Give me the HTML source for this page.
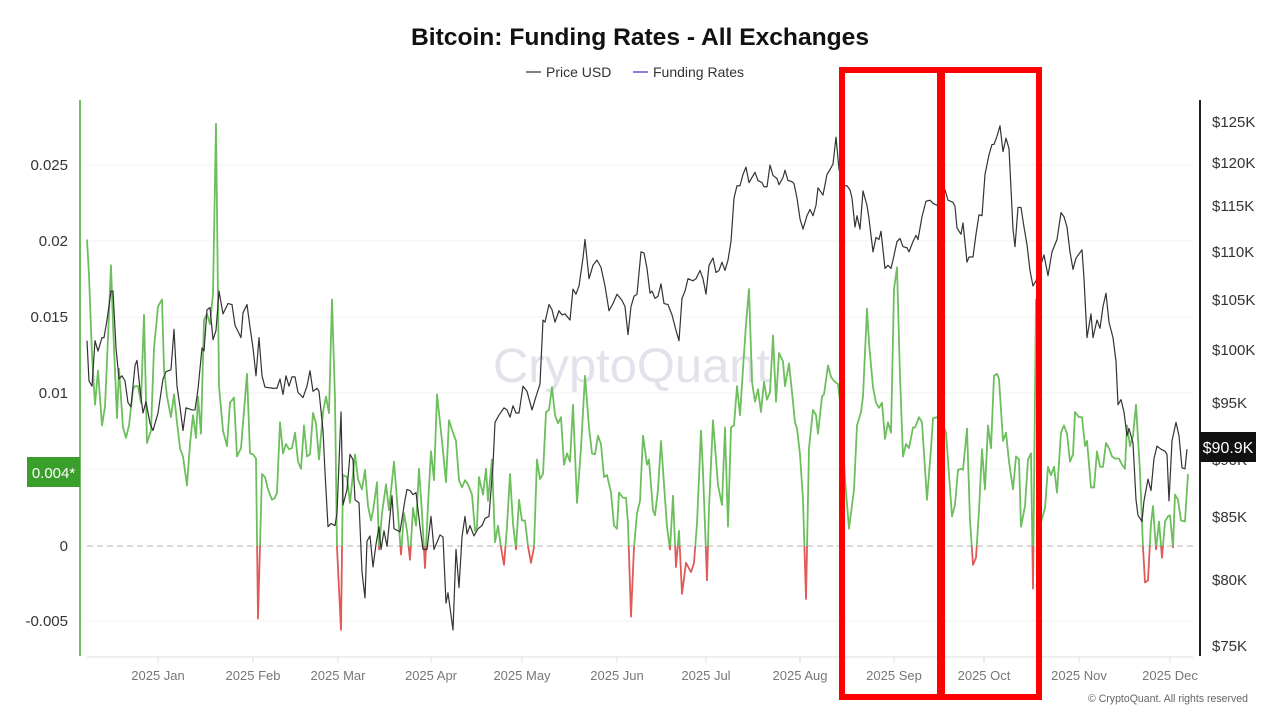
<!DOCTYPE html>
<html>
<head>
<meta charset="utf-8">
<style>
html,body{margin:0;padding:0;background:#fff;}
svg{display:block;}
text{font-family:"Liberation Sans",Arial,sans-serif;}
</style>
</head>
<body>
<svg width="1280" height="720" viewBox="0 0 1280 720" xmlns="http://www.w3.org/2000/svg">
<defs>
<clipPath id="above"><rect x="0" y="0" width="1280" height="546"/></clipPath>
<clipPath id="below"><rect x="0" y="546" width="1280" height="200"/></clipPath>
</defs>
<rect width="1280" height="720" fill="#fff"/>

<!-- title -->
<text x="640" y="45" font-size="24" font-weight="bold" fill="#111" text-anchor="middle" textLength="458" lengthAdjust="spacingAndGlyphs">Bitcoin: Funding Rates - All Exchanges</text>
<!-- legend -->
<line x1="526" y1="72" x2="541" y2="72" stroke="#555" stroke-width="1.5"/>
<text x="546" y="77" font-size="14" fill="#333">Price USD</text>
<line x1="633" y1="72" x2="648" y2="72" stroke="#5b57d8" stroke-width="1.5"/>
<text x="653" y="77" font-size="14" fill="#333">Funding Rates</text>

<!-- gridlines -->
<g stroke="#f0f0f0" stroke-width="1">
<line x1="87" y1="165" x2="1193" y2="165"/>
<line x1="87" y1="241" x2="1193" y2="241"/>
<line x1="87" y1="317" x2="1193" y2="317"/>
<line x1="87" y1="393" x2="1193" y2="393"/>
<line x1="87" y1="469" x2="1193" y2="469"/>
<line x1="87" y1="621" x2="1193" y2="621"/>
</g>
<line x1="87" y1="546" x2="1193" y2="546" stroke="#c4c4c4" stroke-width="1.2" stroke-dasharray="6,4"/>

<!-- watermark -->
<text x="493" y="382" font-size="48" fill="#e2e2ea" textLength="277" lengthAdjust="spacingAndGlyphs">CryptoQuant</text>

<!-- x axis -->
<line x1="87" y1="657" x2="1193" y2="657" stroke="#dcdcdc" stroke-width="1"/>
<g stroke="#dcdcdc" stroke-width="1">
<line x1="158" y1="657" x2="158" y2="663"/>
<line x1="253" y1="657" x2="253" y2="663"/>
<line x1="338" y1="657" x2="338" y2="663"/>
<line x1="431" y1="657" x2="431" y2="663"/>
<line x1="522" y1="657" x2="522" y2="663"/>
<line x1="617" y1="657" x2="617" y2="663"/>
<line x1="706" y1="657" x2="706" y2="663"/>
<line x1="800" y1="657" x2="800" y2="663"/>
<line x1="894" y1="657" x2="894" y2="663"/>
<line x1="984" y1="657" x2="984" y2="663"/>
<line x1="1079" y1="657" x2="1079" y2="663"/>
<line x1="1170" y1="657" x2="1170" y2="663"/>
</g>
<g font-size="13" fill="#777" text-anchor="middle">
<text x="158" y="680">2025 Jan</text>
<text x="253" y="680">2025 Feb</text>
<text x="338" y="680">2025 Mar</text>
<text x="431" y="680">2025 Apr</text>
<text x="522" y="680">2025 May</text>
<text x="617" y="680">2025 Jun</text>
<text x="706" y="680">2025 Jul</text>
<text x="800" y="680">2025 Aug</text>
<text x="894" y="680">2025 Sep</text>
<text x="984" y="680">2025 Oct</text>
<text x="1079" y="680">2025 Nov</text>
<text x="1170" y="680">2025 Dec</text>
</g>

<!-- left axis -->
<line x1="80" y1="100" x2="80" y2="656" stroke="#6cbf5c" stroke-width="2"/>
<g font-size="15" fill="#333" text-anchor="end">
<text x="68" y="170">0.025</text>
<text x="68" y="246">0.02</text>
<text x="68" y="322">0.015</text>
<text x="68" y="398">0.01</text>
<text x="68" y="551">0</text>
<text x="68" y="626">-0.005</text>
</g>
<rect x="27" y="457" width="53" height="30" fill="#3a9f2a"/>
<text x="53.5" y="478" font-size="15" fill="#fff" text-anchor="middle">0.004*</text>

<!-- right axis -->
<line x1="1200" y1="100" x2="1200" y2="656" stroke="#222" stroke-width="2"/>
<g font-size="15" fill="#333">
<text x="1212" y="127">$125K</text>
<text x="1212" y="168">$120K</text>
<text x="1212" y="211">$115K</text>
<text x="1212" y="257">$110K</text>
<text x="1212" y="305">$105K</text>
<text x="1212" y="355">$100K</text>
<text x="1212" y="408">$95K</text>
<text x="1212" y="465">$90K</text>
<text x="1212" y="522">$85K</text>
<text x="1212" y="585">$80K</text>
<text x="1212" y="651">$75K</text>
</g>

<!-- series -->
<g clip-path="url(#above)">
<g transform="translate(0,100) scale(1,1.0331) translate(0,-100)">
<polyline fill="none" stroke="#6cbf5c" stroke-width="1.8" stroke-linejoin="round" vector-effect="non-scaling-stroke" points="87,235 89,270 92,347 95,395 98,362 102,415 105,397 107,353 111,260 113,317 117,408 119,360 123,417 126,427 129,415 133,380 135,377 138,377 141,393 144,308 147,432 151,420 154,340 158,300 162,293 164,360 167,387 171,407 174,385 177,412 180,437 183,445 187,473 190,433 193,405 196,427 198,387 201,423 204,313 207,307 210,317 213,287 216,123 219,377 223,420 227,435 230,393 234,388 237,445 241,437 247,365 250,442 253,443 256,447 258,602 262,462 265,465 268,477 272,487 275,485 277,480 280,412 283,442 286,433 289,438 292,437 295,422 298,450 301,457 304,415 307,445 310,443 313,403 316,413 319,448 323,402 326,387 329,403 332,293 335,390 337,533 341,613 343,463 347,465 350,490 355,443 358,467 362,477 365,458 368,493 371,507 373,498 377,470 379,535 382,500 386,472 389,497 394,450 397,487 401,540 404,500 407,517 410,545 413,495 416,512 419,457 422,500 425,553 428,492 431,440 434,468 437,385 442,430 446,470 449,410 453,422 456,430 459,468 462,475 465,468 468,472 472,482 475,517 477,513 479,465 483,482 486,457 488,488 492,448 495,528 498,512 501,533 504,550 507,513 510,462 513,510 516,535 519,487 522,507 525,507 528,532 531,548 534,533 537,448 540,467 543,462 546,402 549,400 552,378 555,405 558,413 561,407 564,453 567,442 570,450 573,395 577,490 581,437 585,367 589,417 592,442 595,443 598,425 601,433 604,465 607,463 611,480 614,512 617,515 619,480 623,485 626,485 628,510 631,600 634,533 637,500 640,488 643,425 647,453 649,448 653,497 655,502 658,477 661,430 664,472 667,513 670,535 673,483 676,552 679,517 682,578 686,548 691,557 694,548 697,510 701,420 703,460 707,565 709,495 713,410 718,473 722,492 725,417 728,513 731,417 734,415 737,377 740,405 743,360 746,317 749,283 752,373 755,392 758,380 761,402 764,373 767,390 770,383 773,328 776,392 779,345 783,353 785,377 789,355 792,383 795,412 797,418 800,443 803,487 806,583 809,437 813,400 816,405 818,423 822,387 824,385 828,357 831,368 834,372 838,375 841,400 845,467 849,515 854,477 857,415 861,402 863,387 867,302 869,335 873,378 876,393 879,398 882,393 885,428 888,412 891,422 894,283 897,262 900,367 903,445 906,433 909,437 913,417 915,417 919,407 922,412 925,457 927,487 931,437 933,408 937,407 941,410 946,422 949,463 952,503 955,492 958,458 961,457 963,458 967,418 970,507 973,550 976,543 979,497 982,438 985,477 988,415 991,437 994,367 997,365 999,370 1003,430 1006,422 1009,450 1013,477 1016,445 1019,448 1021,513 1025,493 1028,448 1031,442 1033,573 1036,293 1039,517 1042,505 1045,495 1048,455 1051,463 1054,455 1057,480 1061,422 1064,415 1067,423 1070,450 1073,443 1075,402 1079,407 1082,407 1085,435 1087,430 1091,475 1094,475 1097,440 1100,455 1103,455 1106,432 1109,437 1112,445 1115,447 1119,447 1122,453 1125,457 1127,415 1130,435 1133,425 1136,395 1140,460 1143,533 1145,567 1148,565 1151,510 1153,493 1156,535 1159,508 1162,543 1165,508 1168,503 1170,502 1173,533 1175,482 1178,487 1181,507 1185,508 1188,462"/>
</g>
</g>
<g clip-path="url(#below)">
<g transform="translate(0,100) scale(1,1.0331) translate(0,-100)">
<polyline fill="none" stroke="#e05a5a" stroke-width="1.8" stroke-linejoin="round" vector-effect="non-scaling-stroke" points="87,235 89,270 92,347 95,395 98,362 102,415 105,397 107,353 111,260 113,317 117,408 119,360 123,417 126,427 129,415 133,380 135,377 138,377 141,393 144,308 147,432 151,420 154,340 158,300 162,293 164,360 167,387 171,407 174,385 177,412 180,437 183,445 187,473 190,433 193,405 196,427 198,387 201,423 204,313 207,307 210,317 213,287 216,123 219,377 223,420 227,435 230,393 234,388 237,445 241,437 247,365 250,442 253,443 256,447 258,602 262,462 265,465 268,477 272,487 275,485 277,480 280,412 283,442 286,433 289,438 292,437 295,422 298,450 301,457 304,415 307,445 310,443 313,403 316,413 319,448 323,402 326,387 329,403 332,293 335,390 337,533 341,613 343,463 347,465 350,490 355,443 358,467 362,477 365,458 368,493 371,507 373,498 377,470 379,535 382,500 386,472 389,497 394,450 397,487 401,540 404,500 407,517 410,545 413,495 416,512 419,457 422,500 425,553 428,492 431,440 434,468 437,385 442,430 446,470 449,410 453,422 456,430 459,468 462,475 465,468 468,472 472,482 475,517 477,513 479,465 483,482 486,457 488,488 492,448 495,528 498,512 501,533 504,550 507,513 510,462 513,510 516,535 519,487 522,507 525,507 528,532 531,548 534,533 537,448 540,467 543,462 546,402 549,400 552,378 555,405 558,413 561,407 564,453 567,442 570,450 573,395 577,490 581,437 585,367 589,417 592,442 595,443 598,425 601,433 604,465 607,463 611,480 614,512 617,515 619,480 623,485 626,485 628,510 631,600 634,533 637,500 640,488 643,425 647,453 649,448 653,497 655,502 658,477 661,430 664,472 667,513 670,535 673,483 676,552 679,517 682,578 686,548 691,557 694,548 697,510 701,420 703,460 707,565 709,495 713,410 718,473 722,492 725,417 728,513 731,417 734,415 737,377 740,405 743,360 746,317 749,283 752,373 755,392 758,380 761,402 764,373 767,390 770,383 773,328 776,392 779,345 783,353 785,377 789,355 792,383 795,412 797,418 800,443 803,487 806,583 809,437 813,400 816,405 818,423 822,387 824,385 828,357 831,368 834,372 838,375 841,400 845,467 849,515 854,477 857,415 861,402 863,387 867,302 869,335 873,378 876,393 879,398 882,393 885,428 888,412 891,422 894,283 897,262 900,367 903,445 906,433 909,437 913,417 915,417 919,407 922,412 925,457 927,487 931,437 933,408 937,407 941,410 946,422 949,463 952,503 955,492 958,458 961,457 963,458 967,418 970,507 973,550 976,543 979,497 982,438 985,477 988,415 991,437 994,367 997,365 999,370 1003,430 1006,422 1009,450 1013,477 1016,445 1019,448 1021,513 1025,493 1028,448 1031,442 1033,573 1036,293 1039,517 1042,505 1045,495 1048,455 1051,463 1054,455 1057,480 1061,422 1064,415 1067,423 1070,450 1073,443 1075,402 1079,407 1082,407 1085,435 1087,430 1091,475 1094,475 1097,440 1100,455 1103,455 1106,432 1109,437 1112,445 1115,447 1119,447 1122,453 1125,457 1127,415 1130,435 1133,425 1136,395 1140,460 1143,533 1145,567 1148,565 1151,510 1153,493 1156,535 1159,508 1162,543 1165,508 1168,503 1170,502 1173,533 1175,482 1178,487 1181,507 1185,508 1188,462"/>
</g>
</g>

<g transform="translate(0,100) scale(1,1.0331) translate(0,-100)">
<polyline fill="none" stroke="#333" stroke-width="1.2" stroke-linejoin="round" vector-effect="non-scaling-stroke" points="87,333 89,372 92,377 95,333 98,343 102,330 104,330 107,313 111,285 113,285 116,340 119,370 122,367 125,372 128,393 131,397 133,377 135,357 137,352 140,380 143,403 146,392 150,413 153,420 158,403 163,370 166,363 171,361 174,322 177,377 180,397 183,420 186,398 192,400 195,400 198,380 202,340 204,343 207,303 210,301 213,332 216,323 219,285 223,307 228,297 232,298 235,318 241,330 243,306 247,298 250,320 253,340 256,367 259,330 262,367 265,378 273,379 277,379 280,370 283,385 286,367 289,377 292,368 295,368 298,383 303,388 307,377 310,362 313,382 317,379 319,382 323,420 325,460 328,513 331,510 335,512 337,500 341,402 343,492 347,477 350,443 353,448 355,487 359,490 362,557 365,582 367,527 370,522 373,552 376,530 379,513 381,535 384,517 387,532 392,483 394,515 400,518 405,487 407,477 410,478 413,482 416,480 420,513 423,535 427,535 431,503 434,535 440,521 443,523 446,587 448,577 453,613 456,535 459,572 462,523 465,503 467,520 470,512 474,522 478,515 482,512 485,505 489,503 493,453 495,412 499,405 504,398 507,400 510,407 513,396 516,403 519,403 523,377 527,382 532,400 536,387 540,375 543,313 545,315 549,298 552,303 555,315 559,304 562,308 565,307 570,313 573,283 576,288 579,280 583,253 585,235 589,273 593,260 597,255 601,262 605,280 609,304 613,297 617,288 622,294 625,300 628,327 631,300 634,290 637,288 641,247 644,248 647,263 650,287 652,285 655,292 658,290 661,278 664,297 668,298 672,308 676,323 679,333 682,292 685,285 688,273 693,275 696,273 700,265 703,273 706,288 709,260 713,253 716,267 719,265 722,257 725,265 728,255 731,237 734,195 737,183 740,183 743,172 746,165 749,180 752,175 755,170 758,178 762,180 764,184 767,184 770,163 773,173 777,176 779,182 783,175 785,168 788,178 792,179 794,181 797,195 800,215 803,225 807,212 810,206 813,212 816,202 818,185 823,192 827,172 829,169 833,162 836,136 839,167 843,183 847,183 850,187 852,195 855,223 857,212 860,225 863,188 867,202 869,215 873,247 876,233 879,235 881,227 885,263 888,260 891,263 893,255 897,237 900,234 903,242 907,243 909,247 913,237 916,231 918,235 922,213 926,198 930,197 933,200 937,202 941,195 945,187 948,197 953,199 955,203 957,224 961,230 963,219 967,257 969,252 973,252 976,230 979,211 982,212 985,172 989,153 992,143 994,143 997,135 1000,125 1003,150 1006,137 1009,147 1013,225 1015,242 1018,204 1021,204 1024,223 1027,240 1030,265 1033,280 1036,275 1040,262 1044,250 1048,270 1052,247 1057,235 1061,209 1064,213 1067,223 1070,247 1073,264 1076,253 1082,245 1084,273 1087,330 1091,307 1093,330 1097,313 1100,321 1103,300 1106,287 1109,315 1113,330 1116,353 1118,395 1121,390 1124,402 1127,425 1129,418 1133,432 1136,487 1138,502 1142,508 1144,488 1148,467 1151,478 1154,447 1157,435 1161,438 1165,440 1167,443 1169,488 1172,430 1176,412 1179,425 1182,456 1185,457 1187,438"/>
</g>

<!-- price badge -->
<rect x="1200" y="432" width="56" height="30" fill="#111"/>
<text x="1228" y="453" font-size="16" fill="#fff" text-anchor="middle">$90.9K</text>

<!-- copyright -->
<text x="1088" y="702" font-size="11" fill="#666" textLength="160" lengthAdjust="spacingAndGlyphs">© CryptoQuant. All rights reserved</text>

<!-- red boxes -->
<rect x="842" y="70" width="98" height="627" fill="none" stroke="#ff0000" stroke-width="6"/>
<rect x="942" y="70" width="97" height="627" fill="none" stroke="#ff0000" stroke-width="6"/>
</svg>
</body>
</html>
